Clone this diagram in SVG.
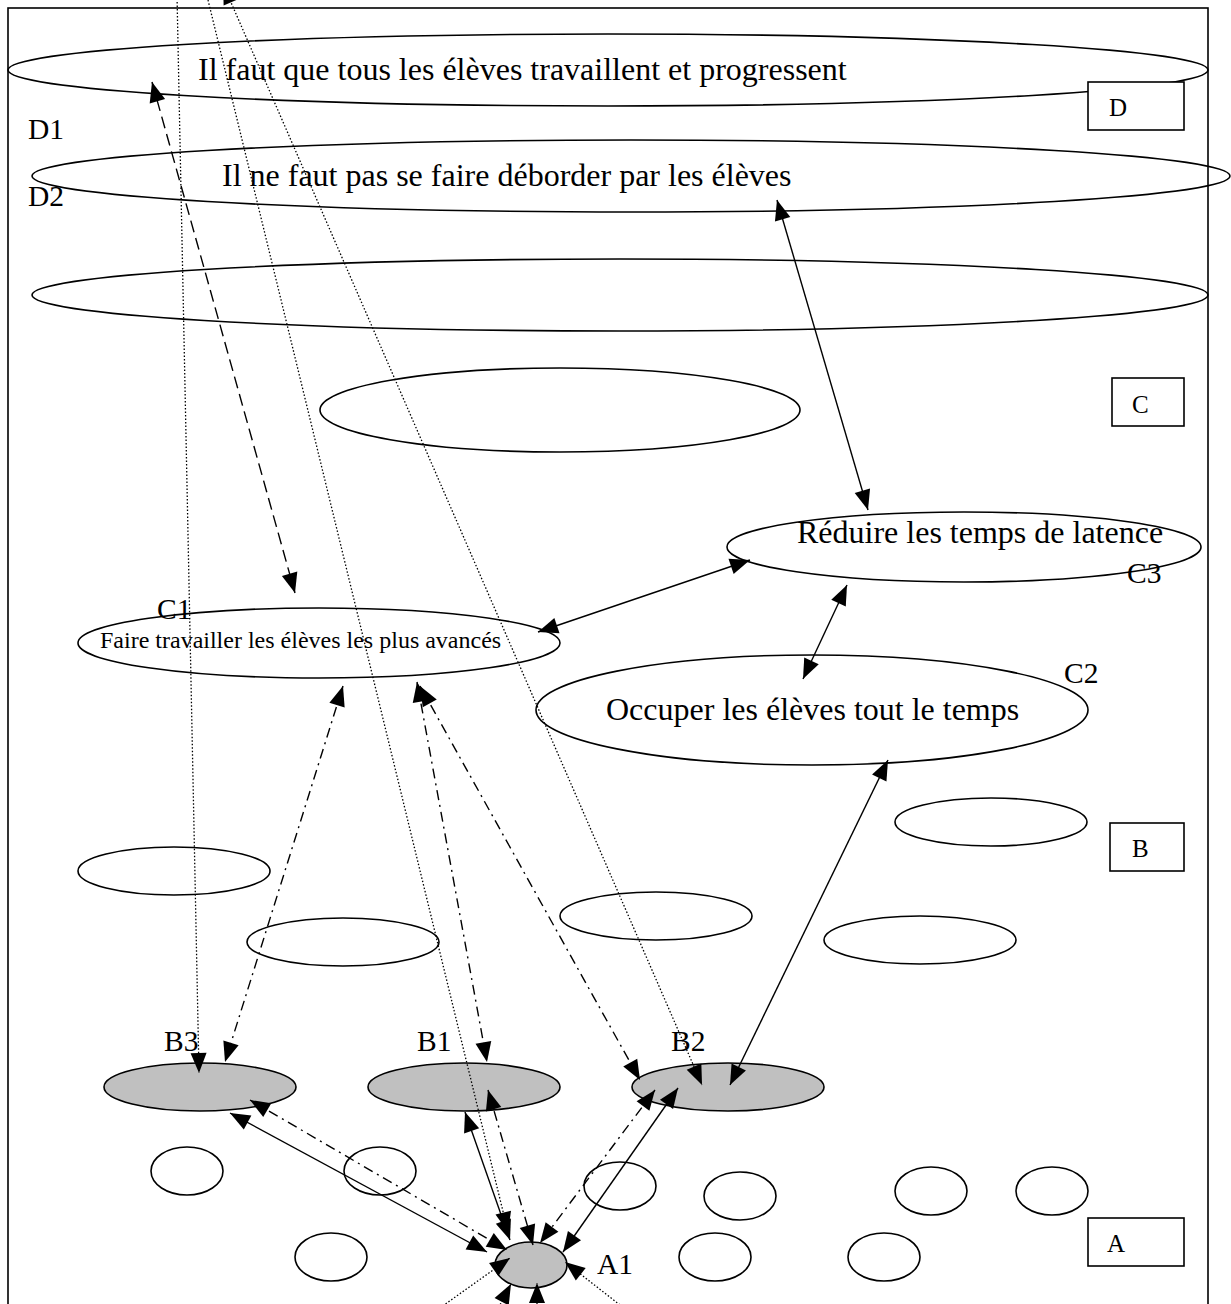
<svg xmlns="http://www.w3.org/2000/svg" width="1231" height="1304" viewBox="0 0 1231 1304">
<defs>
<marker id="ah" markerUnits="userSpaceOnUse" markerWidth="20" markerHeight="16" refX="20" refY="8" orient="auto-start-reverse" overflow="visible">
<path d="M0,0 L20,8 L0,16 z" fill="#000"/>
</marker>
</defs>
<style>
text{font-family:"Liberation Serif","Times New Roman",serif;fill:#000}
.big{font-size:32px}
.lb{font-size:29.5px}
.sm{font-size:24px}
.box{font-size:25px}
.el{fill:none;stroke:#000;stroke-width:1.6}
.gr{fill:#c0c0c0;stroke:#000;stroke-width:1.6}
.bx{fill:#fff;stroke:#000;stroke-width:1.6}
.s{fill:none;stroke:#000;stroke-width:1.4}
.da{fill:none;stroke:#000;stroke-width:1.4;stroke-dasharray:12 6}
.dd{fill:none;stroke:#000;stroke-width:1.4;stroke-dasharray:10 5 2 5}
.dt{fill:none;stroke:#000;stroke-width:1.3;stroke-dasharray:1.5 2}
.two{marker-start:url(#ah);marker-end:url(#ah)}
.one{marker-end:url(#ah)}
</style>
<rect x="8" y="8" width="1200" height="1310" fill="#fff" stroke="#000" stroke-width="1.6"/>

<g id="levelD">
<g id="D1node"><ellipse class="el" cx="608" cy="70" rx="600" ry="36"/><text class="big" x="198" y="80">Il faut que tous les élèves travaillent et progressent</text></g>
<g id="D1label"><text class="lb" x="28" y="139">D1</text></g>
<g id="Dbox"><rect class="bx" x="1088" y="82" width="96" height="48"/><text class="box" x="1109" y="116">D</text></g>
<g id="D2node"><ellipse class="el" cx="631" cy="176" rx="599" ry="36"/><text class="big" x="222" y="186">Il ne faut pas se faire déborder par les élèves</text></g>
<g id="D2label"><text class="lb" x="28" y="206">D2</text></g>
<g id="D3node"><ellipse class="el" cx="620" cy="295" rx="588" ry="36"/></g>
</g>

<g id="levelC">
<g id="Cempty"><ellipse class="el" cx="560" cy="410" rx="240" ry="42"/></g>
<g id="Cbox"><rect class="bx" x="1112" y="378" width="72" height="48"/><text class="box" x="1132" y="413">C</text></g>
<g id="C3node"><ellipse class="el" cx="964" cy="547" rx="237" ry="35"/><text class="big" x="797" y="543">Réduire les temps de latence</text><text class="lb" x="1127" y="583">C3</text></g>
<g id="C1node"><ellipse class="el" cx="319" cy="643" rx="241" ry="35"/><text class="sm" x="100" y="648">Faire travailler les élèves les plus avancés</text><text class="lb" x="157" y="619">C1</text></g>
<g id="C2node"><ellipse class="el" cx="812" cy="710" rx="276" ry="55"/><text class="big" x="606" y="720">Occuper les élèves tout le temps</text><text class="lb" x="1064" y="683">C2</text></g>
</g>

<g id="levelB">
<g id="Bbox"><rect class="bx" x="1110" y="823" width="74" height="48"/><text class="box" x="1132" y="857">B</text></g>
<g id="Be1"><ellipse class="el" cx="991" cy="822" rx="96" ry="24"/></g>
<g id="Be2"><ellipse class="el" cx="174" cy="871" rx="96" ry="24"/></g>
<g id="Be3"><ellipse class="el" cx="656" cy="916" rx="96" ry="24"/></g>
<g id="Be4"><ellipse class="el" cx="343" cy="942" rx="96" ry="24"/></g>
<g id="Be5"><ellipse class="el" cx="920" cy="940" rx="96" ry="24"/></g>
<g id="B3node"><ellipse class="gr" cx="200" cy="1087" rx="96" ry="24"/><text class="lb" x="164" y="1051">B3</text></g>
<g id="B1node"><ellipse class="gr" cx="464" cy="1087" rx="96" ry="24"/><text class="lb" x="417" y="1051">B1</text></g>
<g id="B2node"><ellipse class="gr" cx="728" cy="1087" rx="96" ry="24"/><text class="lb" x="671" y="1051">B2</text></g>
</g>

<g id="levelA">
<g id="Abox"><rect class="bx" x="1088" y="1218" width="96" height="48"/><text class="box" x="1107" y="1252">A</text></g>
<g id="Ae1"><ellipse class="el" cx="187" cy="1171" rx="36" ry="24"/></g>
<g id="Ae2"><ellipse class="el" cx="380" cy="1171" rx="36" ry="24"/></g>
<g id="Ae3"><ellipse class="el" cx="620" cy="1186" rx="36" ry="24"/></g>
<g id="Ae4"><ellipse class="el" cx="740" cy="1196" rx="36" ry="24"/></g>
<g id="Ae5"><ellipse class="el" cx="931" cy="1191" rx="36" ry="24"/></g>
<g id="Ae6"><ellipse class="el" cx="1052" cy="1191" rx="36" ry="24"/></g>
<g id="Ae7"><ellipse class="el" cx="331" cy="1257" rx="36" ry="24"/></g>
<g id="Ae8"><ellipse class="el" cx="715" cy="1257" rx="36" ry="24"/></g>
<g id="Ae9"><ellipse class="el" cx="884" cy="1257" rx="36" ry="24"/></g>
<g id="A1node"><ellipse class="gr" cx="531" cy="1265" rx="36" ry="23"/><text class="lb" x="597" y="1274">A1</text></g>
</g>

<g id="connectors">
<line class="s two" x1="777" y1="200" x2="868" y2="510"/>
<line class="s two" x1="538" y1="632" x2="750" y2="560"/>
<line class="s two" x1="847" y1="585" x2="803" y2="679"/>
<line class="s two" x1="888" y1="760" x2="730" y2="1085"/>
<line class="s two" x1="230" y1="1113" x2="487" y2="1252"/>
<line class="s two" x1="465" y1="1112" x2="510" y2="1240"/>
<line class="s two" x1="678" y1="1088" x2="563" y2="1252"/>
<line class="da two" x1="152" y1="82" x2="295" y2="593"/>
<line class="dd two" x1="343" y1="686" x2="225" y2="1062"/>
<line class="dd two" x1="417" y1="682" x2="487" y2="1062"/>
<line class="dd two" x1="420" y1="686" x2="640" y2="1080"/>
<line class="dd two" x1="250" y1="1100" x2="507" y2="1250"/>
<line class="dd two" x1="488" y1="1090" x2="533" y2="1245"/>
<line class="dd two" x1="655" y1="1090" x2="540" y2="1243"/>
<line class="dt one" x1="177" y1="-5" x2="199" y2="1073"/>
<line class="dt one" x1="208" y1="0" x2="508" y2="1232"/>
<line class="dt two" x1="223" y1="-16" x2="702" y2="1085"/>
<line class="dt one" x1="437" y1="1310" x2="510" y2="1258"/>
<line class="dt one" x1="492" y1="1320" x2="511" y2="1284"/>
<line class="dt one" x1="537" y1="1315" x2="537" y2="1283"/>
<line class="dt one" x1="620" y1="1305" x2="565" y2="1262"/>
</g>
</svg>
